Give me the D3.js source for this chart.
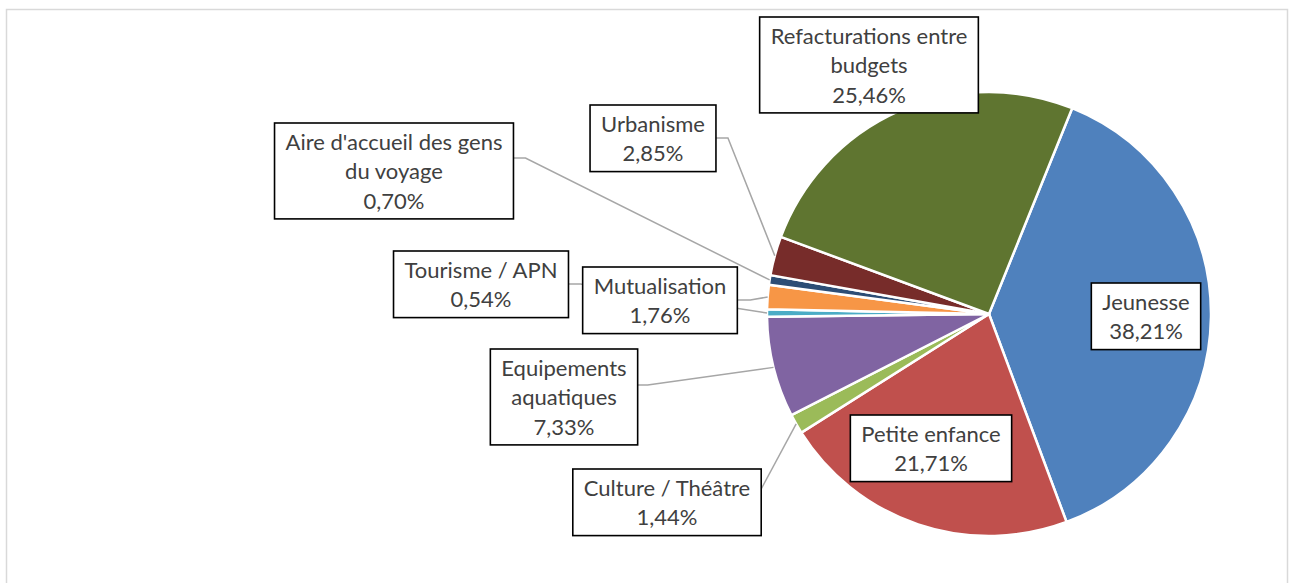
<!DOCTYPE html>
<html>
<head>
<meta charset="utf-8">
<script src="https://cdn.jsdelivr.net/npm/d3@7"></script>
<style>
  body { margin: 0; background: #fff; }
  svg text { font-family: Lato, "Open Sans", sans-serif; fill: #404040; }
</style>
</head>
<body>
<svg id="pie_chart" width="1292" height="583"></svg>
<script>
// data (clockwise from the top-right)
var categories = ["Jeunesse", "Petite enfance", "Culture / Théâtre", "Equipements aquatiques",
    "Tourisme / APN", "Mutualisation", "Aire d'accueil des gens du voyage", "Urbanisme",
    "Refacturations entre budgets"];
var values = [38.21, 21.71, 1.44, 7.33, 0.54, 1.76, 0.70, 2.85, 25.46];
var colors = ["#4F81BD", "#C0504D", "#9BBB59", "#8064A2", "#4BACC6", "#F79646", "#2C4D75", "#772C2A", "#5F7530"];

// label box layout: centre x, top y, wrap width, leader anchor offset / elbow
var labelLayout = [
    {cx: 1146, top: 283, wrap: 200},
    {cx: 931, top: 415, wrap: 200},
    {cx: 667, top: 469, wrap: 220, ay: 20, elbow: 0},
    {cx: 564, top: 349, wrap: 130, ay: 36, elbow: 10},
    {cx: 481, top: 251, wrap: 200, ay: 33, elbow: 12},
    {cx: 660, top: 267, wrap: 200, ay: 33, elbow: 13},
    {cx: 394, top: 123, wrap: 225, ay: 35, elbow: 12},
    {cx: 653, top: 105, wrap: 200, ay: 33, elbow: 12},
    {cx: 869, top: 17, wrap: 205}
];

var svg = d3.select('#pie_chart'),
    cx = 989, cy = 314,
    radius = 222,
    lineH = 29.3,
    fontSize = 22;

// chart area border
svg.append('rect')
    .attr('x', 6.5).attr('y', 9.5)
    .attr('width', 1281).attr('height', 620)
    .attr('fill', 'none')
    .attr('stroke', '#d9d9d9')
    .attr('stroke-width', 1.5);

var data = categories.map((c, i) => ({name: c, value: values[i], color: colors[i], layout: labelLayout[i]}));

var startAngle = 22 * Math.PI / 180;
var pie = d3.pie()
    .value(d => d.value)
    .sort(null)
    .startAngle(startAngle)
    .endAngle(startAngle + 2 * Math.PI);

var path = d3.arc()
    .outerRadius(radius)
    .innerRadius(0);

var g = svg.append('g')
    .attr('transform', 'translate(' + cx + ',' + cy + ')');

var arcs = pie(data);

g.selectAll('.arc')
    .data(arcs)
    .enter()
    .append('path')
    .attr('class', 'arc')
    .attr('d', path)
    .attr('fill', d => d.data.color)
    .attr('stroke', '#fff')
    .attr('stroke-width', 2.5)
    .attr('stroke-linejoin', 'round');

// word wrap helper using a hidden text node
var measure = svg.append('text').attr('font-size', fontSize).attr('visibility', 'hidden');
function textWidth(s) {
    measure.text(s);
    return measure.node().getComputedTextLength();
}
function wrap(s, w) {
    var words = s.split(' '), lines = [], cur = '';
    words.forEach(word => {
        var test = cur ? cur + ' ' + word : word;
        if (cur && textWidth(test) > w) {
            lines.push(cur);
            cur = word;
        } else {
            cur = test;
        }
    });
    lines.push(cur);
    return lines;
}

var fmt = v => v.toFixed(2).replace('.', ',') + '%';

var boxes = arcs.map(d => {
    var lay = d.data.layout;
    var lines = wrap(d.data.name, lay.wrap).concat([fmt(d.data.value)]);
    var w = d3.max(lines, textWidth) + 22;
    var h = lines.length * lineH + 8;
    return {arc: d, lay: lay, lines: lines, x: lay.cx - w / 2, y: lay.top, w: w, h: h};
});
measure.remove();

// leader lines (drawn below the boxes)
var line = d3.line();
boxes.filter(b => b.lay.ay !== undefined).forEach(b => {
    var mid = (b.arc.startAngle + b.arc.endAngle) / 2;
    var end = [cx + radius * Math.sin(mid), cy - radius * Math.cos(mid)];
    var sx = b.x + b.w, sy = b.y + b.lay.ay;
    svg.append('path')
        .attr('d', line([[sx, sy], [sx + b.lay.elbow, sy], end]))
        .attr('fill', 'none')
        .attr('stroke', '#a6a6a6')
        .attr('stroke-width', 1.5);
});

var lab = svg.selectAll('.lab')
    .data(boxes)
    .enter()
    .append('g')
    .attr('class', 'lab');

lab.append('rect')
    .attr('x', b => b.x)
    .attr('y', b => b.y)
    .attr('width', b => b.w)
    .attr('height', b => b.h)
    .attr('fill', '#fff')
    .attr('stroke', '#000')
    .attr('stroke-width', 1.6);

lab.each(function (b) {
    var t = d3.select(this).append('text')
        .attr('text-anchor', 'middle')
        .attr('font-size', fontSize);
    b.lines.forEach((l, i) => {
        t.append('tspan')
            .attr('x', b.lay.cx)
            .attr('y', b.y + 27 + i * lineH)
            .text(l);
    });
});
</script>
</body>
</html>
